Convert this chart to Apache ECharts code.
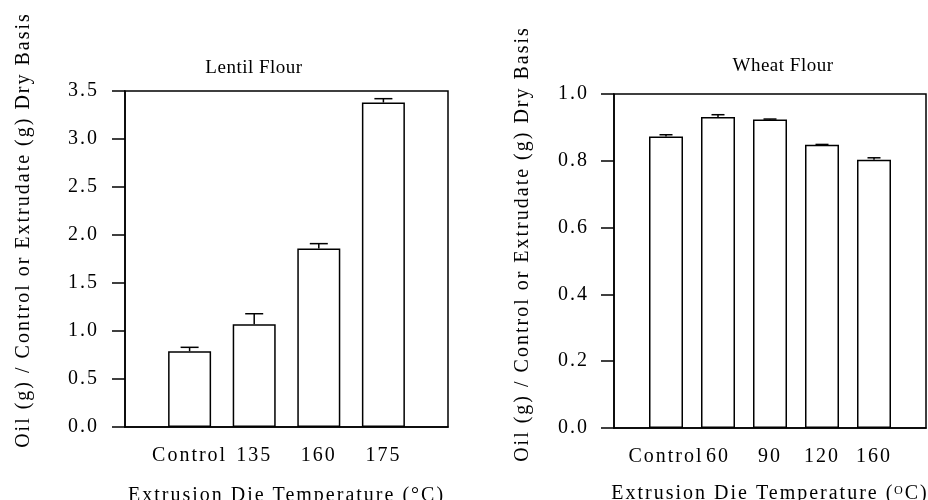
<!DOCTYPE html>
<html>
<head>
<meta charset="utf-8">
<style>
  html, body { margin: 0; padding: 0; background: #fff; }
  #main { width: 928px; height: 500px; }
</style>
<script src="https://cdn.jsdelivr.net/npm/echarts@6/dist/echarts.min.js"></script>
</head>
<body>
<div id="main"></div>
<script>
// Lentil flour panel
var lentilCategories = ['', 'Control', '135', '160', '175', '']
var lentilMeans = [0.79, 1.07, 1.86, 3.38]
var lentilErrors = [0.04, 0.11, 0.05, 0.04]

// Wheat flour panel
var wheatCategories = ['', 'Control', '60', '90', '120', '160', '']
var wheatMeans = [0.873, 0.931, 0.924, 0.848, 0.803]
var wheatErrors = [0.005, 0.007, 0.001, 0.001, 0.006]

var yName = 'Oil (g) / Control or Extrudate (g) Dry Basis'
var lentilXName = 'Extrusion Die Temperature (°C)'
var wheatXName = 'Extrusion Die Temperature (ᴼC)'

var FONT = 'Liberation Serif'
var textStyle = { fontFamily: FONT, fontSize: 20, color: '#000' }

// the scanned figure uses widely tracked type, titles a little less
var fillText = CanvasRenderingContext2D.prototype.fillText
CanvasRenderingContext2D.prototype.fillText = function () {
  if ('letterSpacing' in this) {
    this.letterSpacing = /19px/.test(this.font) ? '0.5px' : '2px'
  }
  return fillText.apply(this, arguments)
}

function barData(means) {
  return ['-'].concat(means, ['-'])
}

function errData(means, errs) {
  return means.map(function (m, i) {
    return [i + 1, m, errs[i]]
  })
}

function errorBar(capW) {
  return function (params, api) {
    var x = api.value(0)
    var v = api.value(1)
    var e = api.value(2)
    var p0 = api.coord([x, v])
    var p1 = api.coord([x, v + e])
    var line = { stroke: '#000', lineWidth: 1.5 }
    return {
      type: 'group',
      children: [
        { type: 'line', shape: { x1: p0[0], y1: p0[1], x2: p1[0], y2: p1[1] }, style: line },
        { type: 'line', shape: { x1: p1[0] - capW / 2, y1: p1[1], x2: p1[0] + capW / 2, y2: p1[1] }, style: line }
      ]
    }
  }
}

function xAxis(idx, cats, name, gap) {
  return {
    type: 'category',
    gridIndex: idx,
    data: cats,
    boundaryGap: false,
    axisLine: { lineStyle: { color: '#000', width: 1.5 } },
    axisTick: { show: false },
    axisLabel: Object.assign({ interval: 0, margin: 19 }, textStyle),
    name: name,
    nameLocation: 'middle',
    nameGap: gap,
    nameTextStyle: textStyle
  }
}

function yAxis(idx, max, interval, margin) {
  return {
    type: 'value',
    gridIndex: idx,
    min: 0,
    max: max,
    interval: interval,
    splitLine: { show: false },
    axisLine: { show: true, lineStyle: { color: '#000', width: 1.5 } },
    axisTick: { show: true, length: 13, lineStyle: { color: '#000', width: 1.5 } },
    axisLabel: Object.assign({
      margin: margin,
      formatter: function (v) { return v.toFixed(1) }
    }, textStyle)
  }
}

var chart = echarts.init(document.getElementById('main'))
chart.setOption({
  backgroundColor: '#fff',
  animation: false,
  grid: [
    { left: 125, top: 91, width: 323, height: 336, outerBoundsMode: 'none', show: true, borderColor: '#000', borderWidth: 1.5 },
    { left: 614, top: 94, width: 312, height: 334, outerBoundsMode: 'none', show: true, borderColor: '#000', borderWidth: 1.5 }
  ],
  xAxis: [xAxis(0, lentilCategories, lentilXName, 59), xAxis(1, wheatCategories, wheatXName, 56)],
  yAxis: [yAxis(0, 3.5, 0.5, 26), yAxis(1, 1, 0.2, 25)],
  graphic: [
    { type: 'text', x: 254, y: 68, style: { text: 'Lentil Flour', font: '19px ' + FONT, fill: '#000', align: 'center', verticalAlign: 'middle' } },
    { type: 'text', x: 783, y: 66, style: { text: 'Wheat Flour', font: '19px ' + FONT, fill: '#000', align: 'center', verticalAlign: 'middle' } },
    { type: 'text', x: 24, y: 230, rotation: Math.PI / 2, style: { text: yName, font: '20px ' + FONT, fill: '#000', align: 'center', verticalAlign: 'middle' } },
    { type: 'text', x: 523, y: 244, rotation: Math.PI / 2, style: { text: yName, font: '20px ' + FONT, fill: '#000', align: 'center', verticalAlign: 'middle' } }
  ],
  series: [
    {
      type: 'bar',
      xAxisIndex: 0,
      yAxisIndex: 0,
      barWidth: 43,
      data: barData(lentilMeans),
      itemStyle: { color: '#fff', borderColor: '#000', borderWidth: 1.5 }
    },
    {
      type: 'custom',
      xAxisIndex: 0,
      yAxisIndex: 0,
      renderItem: errorBar(18),
      encode: { x: 0, y: 1 },
      data: errData(lentilMeans, lentilErrors),
      z: 3
    },
    {
      type: 'bar',
      xAxisIndex: 1,
      yAxisIndex: 1,
      barWidth: 34,
      data: barData(wheatMeans),
      itemStyle: { color: '#fff', borderColor: '#000', borderWidth: 1.5 }
    },
    {
      type: 'custom',
      xAxisIndex: 1,
      yAxisIndex: 1,
      renderItem: errorBar(13),
      encode: { x: 0, y: 1 },
      data: errData(wheatMeans, wheatErrors),
      z: 3
    }
  ]
})
</script>
</body>
</html>
